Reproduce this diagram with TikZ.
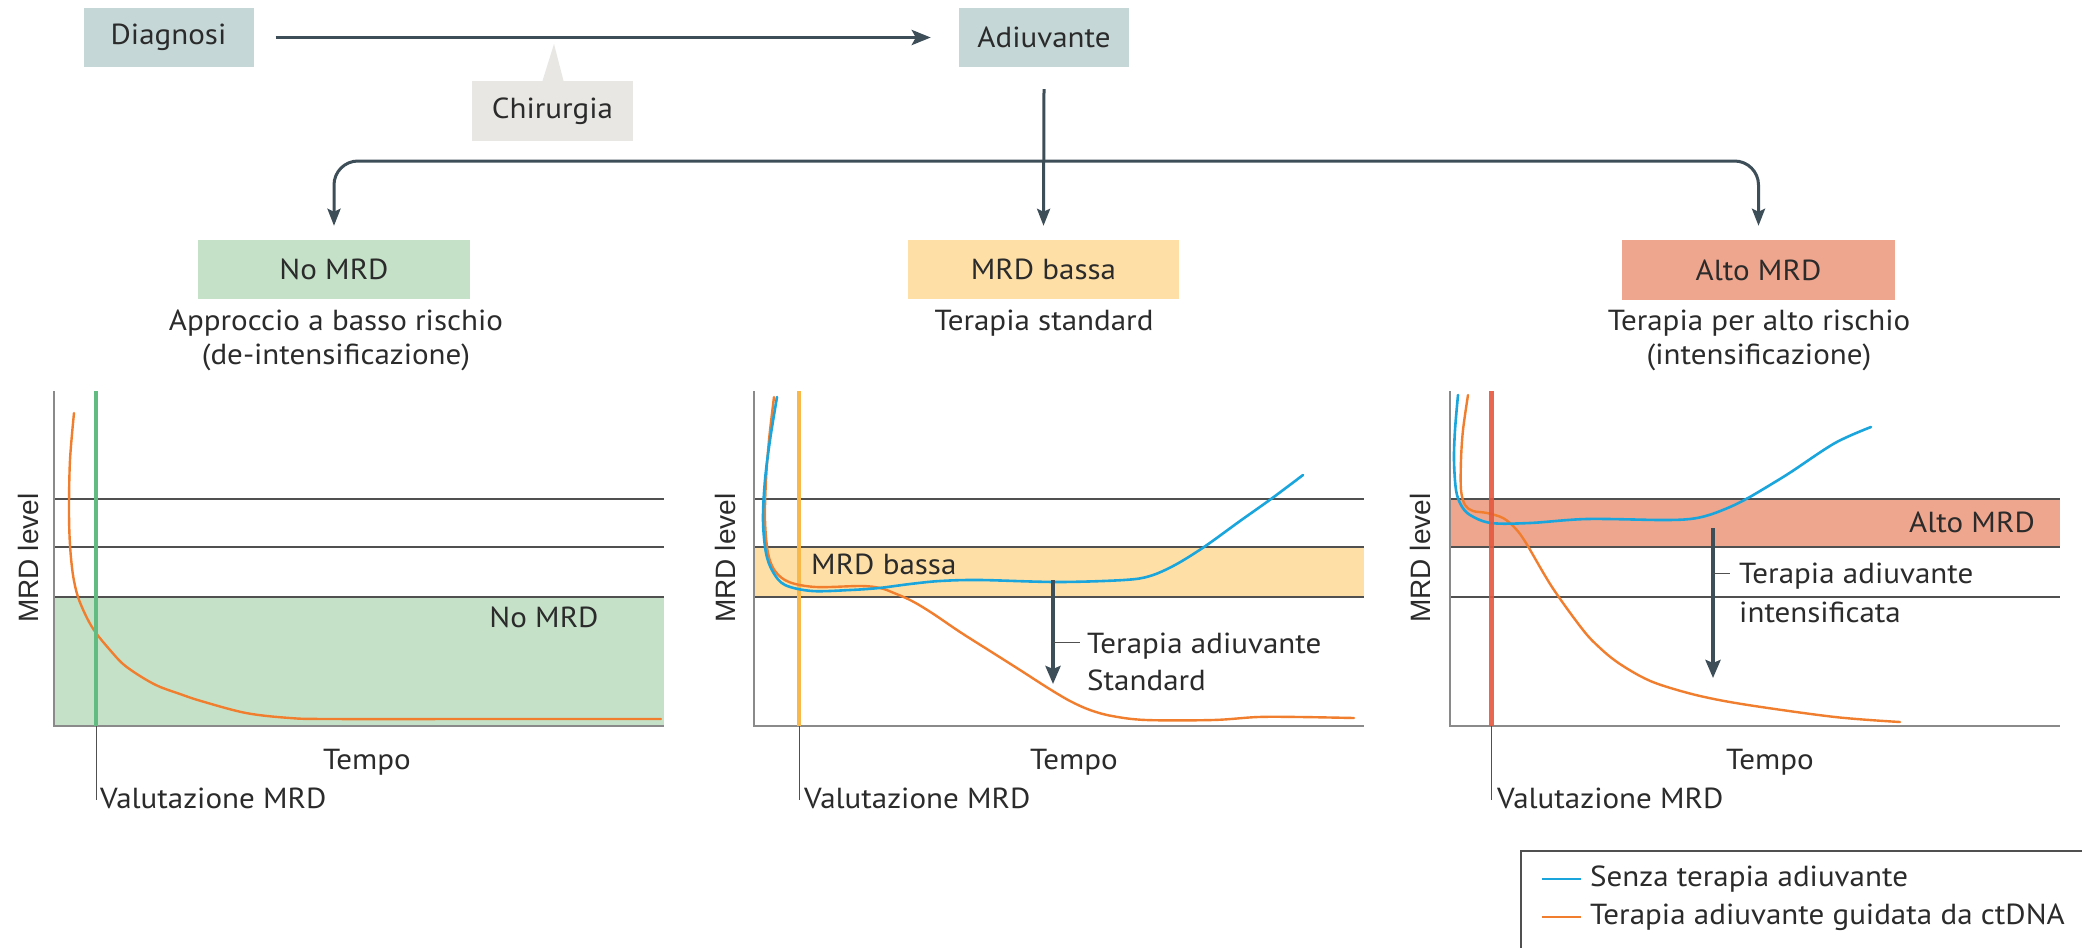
\documentclass[tikz,border=0pt]{standalone}
\usepackage{fontspec}
\setmainfont{PT Sans}[FakeStretch=1.07]
\newfontfamily\axisfont{Liberation Sans}
\usetikzlibrary{arrows.meta}
\definecolor{txt}{HTML}{2B2B2B}
\definecolor{conn}{HTML}{3E4E58}
\definecolor{boxteal}{HTML}{C6D7D7}
\definecolor{boxgray}{HTML}{E8E7E3}
\definecolor{gfill}{HTML}{C5E2C9}
\definecolor{yfill}{HTML}{FEE0A7}
\definecolor{rfill}{HTML}{EEA68E}
\definecolor{gline}{HTML}{62BB80}
\definecolor{yline}{HTML}{F9B84A}
\definecolor{rline}{HTML}{E5573F}
\definecolor{cblue}{HTML}{1AA5DD}
\definecolor{corange}{HTML}{F07E2E}
\definecolor{grid}{HTML}{505050}
\definecolor{axis}{HTML}{8A8A8A}
\tikzset{
  lab/.style={font=\fontsize{29}{34}\selectfont, text=txt, inner sep=0pt},
  boxnode/.style={lab, minimum width=170pt, minimum height=59pt},
  catbox/.style={lab, minimum width=272pt, minimum height=59pt},
  axislab/.style={font=\axisfont\fontsize{28}{34}\selectfont, text=txt, inner sep=0pt, rotate=90},
  mainconn/.style={draw=conn, line width=3.5pt, -{Stealth[length=19pt,width=15pt,inset=4pt]}},
  branch/.style={draw=conn, line width=3pt, rounded corners=24pt, -{Stealth[length=17pt,width=13pt,inset=3pt]}},
  plotarrow/.style={draw=conn, line width=4.5pt, -{Stealth[length=18pt,width=15pt,inset=3pt]}},
  gridline/.style={draw=grid, line width=1.3pt},
  axisline/.style={draw=axis, line width=1.6pt},
  tick/.style={draw=grid, line width=1pt},
  bluecurve/.style={draw=cblue, line width=2.6pt, line join=round, line cap=round},
  orangecurve/.style={draw=corange, line width=2.4pt, line join=round, line cap=round},
}
\begin{document}
\begin{tikzpicture}[x=1pt,y=-1pt]
\useasboundingbox (0,0) rectangle (2082,948);
\fill[white] (0,0) rectangle (2082,948);

% ---------- top flow ----------
\node[boxnode, fill=boxteal] (diag) at (168.5,37.5) {Diagnosi};
\node[boxnode, fill=boxteal] (adiu) at (1044,37.5) {Adiuvante};
\node[lab, fill=boxgray, minimum width=161pt, minimum height=60pt] (chir) at (552.5,111) {Chirurgia};
\coordinate (cpt) at (554,44);
\fill[boxgray] ([xshift=-10pt]chir.north) -- (cpt) -- ([xshift=11pt]chir.north) -- cycle;
\draw[mainconn] ([xshift=22pt]diag.east) -- ([xshift=-28pt]adiu.west);

\node[catbox, fill=gfill] (nomrd) at (334,269.5) {No MRD};
\node[catbox, fill=yfill, minimum width=271pt] (mrdb) at (1043.5,269.5) {MRD bassa};
\node[catbox, fill=rfill, minimum width=273pt, minimum height=60pt] (alto) at (1758.5,270) {Alto MRD};

\coordinate (junc) at (1043.5,161);
\draw[branch] (junc) -| ([yshift=14pt]nomrd.north);
\draw[branch] (junc) -| ([yshift=14pt]alto.north);
\draw[branch] ([yshift=-22pt]adiu.south) -- ([yshift=14pt]mrdb.north);

\node[lab, align=center] (nomrdsub) at (336,340) {Approccio a basso rischio\\(de-intensificazione)};
\node[lab] (mrdbsub) at (1044,323) {Terapia standard};
\node[lab, align=center] (altosub) at (1759,340) {Terapia per alto rischio\\(intensificazione)};

% ---------- plot 1 ----------
\fill[gfill] (54,597) rectangle (664,726);
\draw[gridline] (54,499) -- (664,499);
\draw[gridline] (54,547) -- (664,547);
\draw[gridline] (54,597) -- (664,597);
\draw[axisline] (54,391) -- (54,726) -- (664,726);
\draw[orangecurve] plot[smooth, tension=0.55] coordinates {(74,413) (70,460) (69,510) (70,545) (73,575) (78,597) (87,618) (96,633) (110,650) (123,664) (140,676) (158,686) (180,694) (201,701) (246,713) (290,718) (330,719) (500,719) (661,719)};
\draw[draw=gline, line width=4.5pt] (96,391) -- (96,726);
\draw[tick] (96,726) -- (96,800);
\node[lab] (nomrdp) at (544,617) {No MRD};
\node[axislab] (yl1) at (28,558) {MRD level};
\node[lab] (t1) at (367,762) {Tempo};
\node[lab, anchor=west] (v1) at (100,798) {Valutazione MRD};

% ---------- plot 2 ----------
\fill[yfill] (754,547) rectangle (1364,597);
\draw[gridline] (754,499) -- (1364,499);
\draw[gridline] (754,547) -- (1364,547);
\draw[gridline] (754,597) -- (1364,597);
\draw[axisline] (754,391) -- (754,726) -- (1364,726);
\draw[draw=yline, line width=3.5pt] (799,391) -- (799,726);
\draw[tick] (799,726) -- (799,800);
\draw[orangecurve] plot[smooth, tension=0.55] coordinates {(774,397) (769,440) (766,480) (765,520) (768,553) (775,571) (789,582) (816,587) (861,586) (880,588) (894,593) (912,601) (932,613) (960,632) (990,651) (1020,670) (1048,688) (1070,701) (1090,710) (1112,716) (1146,720) (1213,720) (1258,717) (1300,717) (1354,718)};
\draw[bluecurve] plot[smooth, tension=0.55] coordinates {(777,397) (770,440) (765,480) (763,520) (766,553) (773,572) (785,585) (812,591) (850,590) (879,588) (910,584) (940,581) (980,580) (1057,582) (1124,580) (1150,576) (1175,565) (1204,547) (1240,521) (1271,499) (1303,475)};
\coordinate (a2s) at (1053,580);
\coordinate (a2e) at (1053,684);
\draw[plotarrow] (a2s) -- (a2e);
\coordinate (a2m) at (1053,642);
\coordinate (a2t) at (1080,642);
\draw[tick] (a2m) -- (a2t);
\node[lab, anchor=west] (mrdbp) at (811,564) {MRD bassa};
\node[lab, anchor=west, align=left, font=\fontsize{29}{37}\selectfont] (std) at (1087,661.5) {Terapia adiuvante\\Standard};
\node[axislab] (yl2) at (725,558) {MRD level};
\node[lab] (t2) at (1074,762) {Tempo};
\node[lab, anchor=west] (v2) at (804,798) {Valutazione MRD};

% ---------- plot 3 ----------
\fill[rfill] (1450,499) rectangle (2060,547);
\draw[gridline] (1450,499) -- (2060,499);
\draw[gridline] (1450,547) -- (2060,547);
\draw[gridline] (1450,597) -- (2060,597);
\draw[axisline] (1450,391) -- (1450,726) -- (2060,726);
\draw[orangecurve] plot[smooth, tension=0.55] coordinates {(1468,395) (1463,430) (1461,460) (1461,490) (1465,505) (1473,511) (1487,513) (1503,518) (1515,528) (1526,543) (1552,587) (1583,630) (1600,648) (1617,662) (1640,676) (1661,685) (1700,696) (1748,705) (1835,717) (1900,722)};
\draw[bluecurve] plot[smooth, tension=0.55] coordinates {(1458,395) (1455,430) (1454,460) (1456,490) (1461,505) (1470,515) (1491,523) (1530,523) (1587,519) (1661,520) (1690,519) (1709,515) (1730,507) (1748,498) (1770,485) (1791,472) (1835,443) (1871,427)};
\draw[draw=rline, line width=5pt, opacity=0.9] (1491,391) -- (1491,726);
\draw[tick] (1491,726) -- (1491,800);
\coordinate (a3s) at (1713,528);
\coordinate (a3e) at (1713,678);
\draw[plotarrow] (a3s) -- (a3e);
\coordinate (a3m) at (1713,573);
\coordinate (a3t) at (1730,573);
\draw[tick] (a3m) -- (a3t);
\node[lab, anchor=east] (altop) at (2035,522) {Alto MRD};
\node[lab, anchor=west, align=left, font=\fontsize{29}{39}\selectfont] (int) at (1739,593) {Terapia adiuvante\\intensificata};
\node[axislab] (yl3) at (1420,558) {MRD level};
\node[lab] (t3) at (1770,762) {Tempo};
\node[lab, anchor=west] (v3) at (1497,798) {Valutazione MRD};

% ---------- legend ----------
\draw[draw=grid, line width=1.3pt] (2082,851) -- (1521,851) -- (1521,948);
\coordinate (lb1) at (1542,879);
\coordinate (lb2) at (1581,879);
\draw[draw=cblue, line width=2.6pt] (lb1) -- (lb2);
\node[lab, anchor=west] (leg1) at (1590,879) {Senza terapia adiuvante};
\coordinate (lo1) at (1542,917);
\coordinate (lo2) at (1581,917);
\draw[draw=corange, line width=2.6pt] (lo1) -- (lo2);
\node[lab, anchor=west] (leg2) at (1590,917) {Terapia adiuvante guidata da ctDNA};
\end{tikzpicture}
\end{document}
